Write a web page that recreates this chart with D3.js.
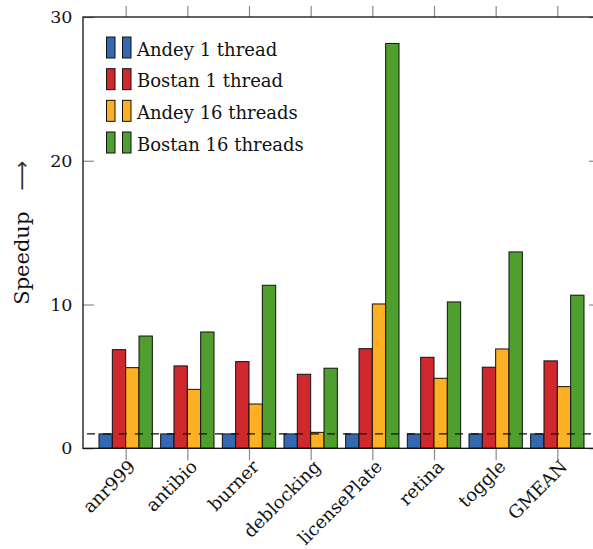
<!DOCTYPE html>
<html>
<head>
<meta charset="utf-8">
<script src="https://cdn.jsdelivr.net/npm/d3@7"></script>
<style>
  html, body { margin: 0; padding: 0; background: #fff; }
  svg { display: block; }
  text { font-family: "DejaVu Serif", serif; fill: #111; }
</style>
</head>
<body>
<svg id="chart" width="593" height="549"></svg>
<script>
// Benchmarks on the x axis
const categories = ["anr999", "antibio", "burner", "deblocking", "licensePlate", "retina", "toggle", "GMEAN"];

// Speedup per configuration
const andey1   = [1.0, 1.0, 1.0, 1.0, 1.0, 1.0, 1.0, 1.0];
const bostan1  = [6.86, 5.73, 6.03, 5.15, 6.93, 6.33, 5.64, 6.08];
const andey16  = [5.61, 4.10, 3.08, 1.11, 10.04, 4.87, 6.91, 4.29];
const bostan16 = [7.81, 8.09, 11.34, 5.57, 28.16, 10.18, 13.66, 10.65];

const seriesNames = ["Andey 1 thread", "Bostan 1 thread", "Andey 16 threads", "Bostan 16 threads"];
const seriesValues = [andey1, bostan1, andey16, bostan16];
const seriesColors = ["#3468af", "#cf292d", "#fdb023", "#4f9f2e"];

const yTicks = [0, 10, 20, 30];
const baselineValue = 1;

const svg = d3.select("#chart");
const plotLeft = 83, plotRight = 600, plotTop = 17, plotBottom = 448.3;

const x = d3.scalePoint().domain(categories).range([plotLeft, plotRight]).padding(0.692);
const inner = d3.scaleBand().domain(seriesNames).range([-26.67, 26.67]);
const y = d3.scaleLinear().domain([0, 30]).range([plotBottom, plotTop]);

const tickColor = "#8a8a8a";

// Bars
const groups = svg.append("g")
  .selectAll("g")
  .data(seriesNames)
  .join("g")
  .attr("fill", (d, i) => seriesColors[i]);

groups.selectAll("rect")
  .data((d, i) => seriesValues[i].map((v, j) => ({ s: d, c: categories[j], v })))
  .join("rect")
  .attr("x", d => x(d.c) + inner(d.s))
  .attr("y", d => y(d.v))
  .attr("width", inner.bandwidth())
  .attr("height", d => y(0) - y(d.v))
  .attr("stroke", "#111")
  .attr("stroke-width", 1);

// Reference line at speedup 1
svg.append("line")
  .attr("x1", plotLeft + 4).attr("x2", plotRight)
  .attr("y1", y(baselineValue)).attr("y2", y(baselineValue))
  .attr("stroke", "#111")
  .attr("stroke-width", 1.1)
  .attr("stroke-dasharray", "8,8");

// Axes: y ticks point inward on both sides, x ticks point outward top and bottom
const yLeft = svg.append("g").attr("transform", `translate(${plotLeft},0)`)
  .call(d3.axisLeft(y).tickValues(yTicks).tickSize(-11).tickPadding(10.5).tickFormat(d3.format("d")));
const yRight = svg.append("g").attr("transform", `translate(${plotRight},0)`)
  .call(d3.axisRight(y).tickValues(yTicks).tickSize(-11).tickFormat(""));
const xBottom = svg.append("g").attr("transform", `translate(0,${plotBottom})`)
  .call(d3.axisBottom(x).tickSize(12).tickFormat(d => d));
const xTop = svg.append("g").attr("transform", `translate(0,${plotTop})`)
  .call(d3.axisTop(x).tickSize(11).tickFormat(""));

[yLeft, yRight, xBottom, xTop].forEach(g => {
  g.select(".domain").remove();
  g.selectAll(".tick line").attr("stroke", tickColor).attr("stroke-width", 1.2);
});

yLeft.selectAll(".tick text")
  .attr("font-size", 17.5)
  .attr("font-family", "DejaVu Serif, serif")
  .attr("fill", "#111");

xBottom.selectAll(".tick text")
  .attr("font-size", 18)
  .attr("font-family", "DejaVu Serif, serif")
  .attr("fill", "#111")
  .attr("text-anchor", "end")
  .attr("dy", null)
  .attr("y", 0)
  .attr("transform", "translate(7,16) rotate(-45)")
  .attr("dominant-baseline", "middle");

// Frame
svg.append("rect")
  .attr("x", plotLeft).attr("y", plotTop)
  .attr("width", plotRight - plotLeft).attr("height", plotBottom - plotTop)
  .attr("fill", "none")
  .attr("stroke", "#111")
  .attr("stroke-width", 1.3);

// Y axis title, with a longer arrow
const yTitle = svg.append("text")
  .attr("transform", `translate(29,${(plotTop + plotBottom) / 2}) rotate(-90)`)
  .attr("text-anchor", "middle")
  .attr("font-size", 21);
yTitle.append("tspan").text("Speedup\u2002\u2002");
yTitle.append("tspan")
  .attr("font-family", "DejaVu Sans, sans-serif")
  .attr("fill", "#333")
  .text("\u27F6");

// Legend
const legend = svg.append("g");
const rowY = d3.scalePoint().domain(seriesNames).range([47.5, 142.5]);
seriesNames.forEach((name, i) => {
  const cy = rowY(name);
  [106.5, 122.5].forEach(bx => {
    legend.append("rect")
      .attr("x", bx).attr("y", cy - 10.5)
      .attr("width", 8.5).attr("height", 21)
      .attr("fill", seriesColors[i])
      .attr("stroke", "#111").attr("stroke-width", 1);
  });
  legend.append("text")
    .attr("x", 137).attr("y", cy + 3)
    .attr("dominant-baseline", "middle")
    .attr("font-size", 18)
    .text(name);
});
</script>
</body>
</html>
